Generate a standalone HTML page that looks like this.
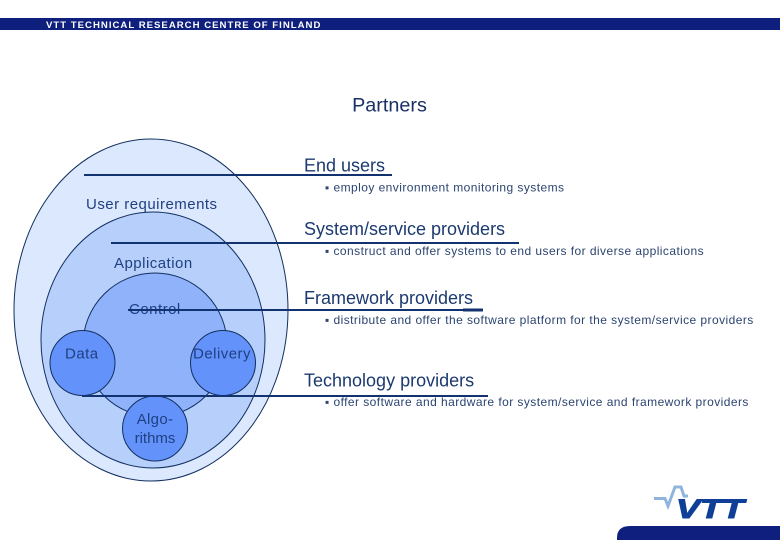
<!DOCTYPE html>
<html>
<head>
<meta charset="utf-8">
<style>
html,body{margin:0;padding:0;background:#fff;}
body{width:780px;height:540px;overflow:hidden;}
svg{display:block;}
text{font-family:"Liberation Sans",sans-serif;fill:#1c3a70;}
.h{font-size:18px;}
.s{font-size:12px;letter-spacing:.44px;fill:#2b4470;}
.c{font-size:15px;fill:#1f4080;letter-spacing:.48px;}
</style>
</head>
<body>
<svg width="780" height="540" viewBox="0 0 780 540" xmlns="http://www.w3.org/2000/svg">
<rect x="0" y="18" width="780" height="12" fill="#0f1f7d"/>
<text x="46" y="28" style="font-size:9.6px;font-weight:bold;letter-spacing:1px;fill:#fff">VTT TECHNICAL RESEARCH CENTRE OF FINLAND</text>

<text x="389.500" y="111.500" text-anchor="middle" style="font-size:19.800px;fill:#1a2f66">Partners</text>

<ellipse cx="151" cy="310" rx="137" ry="171" fill="#dce8fd" stroke="#12305f" stroke-width="1"/>
<ellipse cx="153" cy="340" rx="112" ry="128" fill="#b7cffb" stroke="#12305f" stroke-width="1"/>
<circle cx="155" cy="345" r="72" fill="#8fb2fb" stroke="#12305f" stroke-width="1"/>
<circle cx="82.500" cy="363" r="32.500" fill="#6392fb" stroke="#12305f" stroke-width="1"/>
<circle cx="223" cy="363" r="32.500" fill="#6392fb" stroke="#12305f" stroke-width="1"/>
<circle cx="155" cy="428.500" r="32.500" fill="#6392fb" stroke="#12305f" stroke-width="1"/>

<text class="c" x="86" y="209">User requirements</text>
<text class="c" x="114" y="268">Application</text>
<text class="c" x="129" y="314">Control</text>
<text class="c" x="65" y="358.500">Data</text>
<text class="c" x="193" y="358.500">Delivery</text>
<text class="c" x="155" y="424" text-anchor="middle" style="letter-spacing:.3px">Algo-</text>
<text class="c" x="155" y="443" text-anchor="middle" style="letter-spacing:0">rithms</text>

<g stroke="#12336f" stroke-width="2" fill="none">
<line x1="84" y1="175" x2="392" y2="175"/>
<line x1="111" y1="243" x2="519" y2="243"/>
<line x1="128" y1="310" x2="483" y2="310"/>
<line x1="82" y1="396" x2="488" y2="396"/>
<line x1="463" y1="310" x2="483" y2="310" stroke-width="3"/>
</g>

<text class="h" x="304" y="171.500">End users</text>
<text class="s" x="325" y="191.500">▪ employ environment monitoring systems</text>
<text class="h" x="304" y="235">System/service providers</text>
<text class="s" x="325" y="255">▪ construct and offer systems to end users for diverse applications</text>
<text class="h" x="304" y="304">Framework providers</text>
<text class="s" x="325" y="324">▪ distribute and offer the software platform for the system/service providers</text>
<text class="h" x="304" y="386.500">Technology providers</text>
<text class="s" x="325" y="406">▪ offer software and hardware for system/service and framework providers</text>

<path d="M654 498.500H665L668 506L675 487H681L684 496H688" fill="none" stroke="#8fb5de" stroke-width="3"/>
<text x="676" y="518" textLength="68" lengthAdjust="spacingAndGlyphs" style="font-size:27px;font-weight:bold;font-style:italic;fill:#0f3f97;stroke:#0f3f97;stroke-width:1px">VTT</text>

<path d="M617 540V538Q617 526 630 526H780V540Z" fill="#0f1f7d"/>
</svg>
</body>
</html>
